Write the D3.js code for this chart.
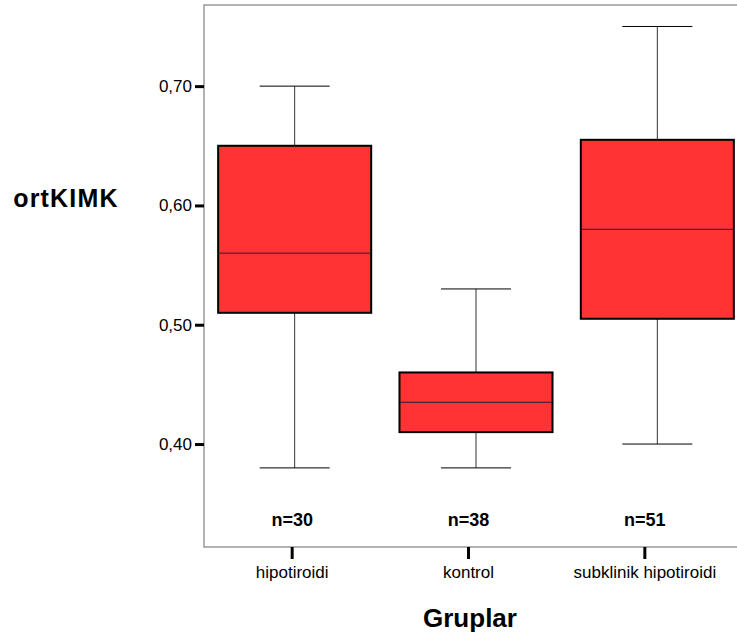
<!DOCTYPE html>
<html>
<head>
<meta charset="utf-8">
<script src="https://cdn.jsdelivr.net/npm/d3@7"></script>
<style>
  body { margin: 0; background: #fff; }
  svg { display: block; font-family: Arial, "Liberation Sans", sans-serif; }
</style>
</head>
<body>
<div id="chart"></div>
<script>
// data
var groups = ['hipotiroidi', 'kontrol', 'subklinik hipotiroidi'];
var counts = ['n=30', 'n=38', 'n=51'];
var whiskerLow  = [0.38, 0.38, 0.40];
var q1          = [0.51, 0.41, 0.505];
var median      = [0.56, 0.435, 0.58];
var q3          = [0.65, 0.46, 0.655];
var whiskerHigh = [0.70, 0.53, 0.75];
var yTicks = [0.40, 0.50, 0.60, 0.70];

var width = 737, height = 637;
var frame = {left: 204, top: 5, right: 748, bottom: 547};
var fontFam = 'Arial, "Liberation Sans", sans-serif';

var rows = groups.map(function(g, i) {
  return {g: g, n: counts[i], lo: whiskerLow[i], q1: q1[i], med: median[i], q3: q3[i], hi: whiskerHigh[i]};
});

var svg = d3.select('#chart').append('svg')
    .attr('width', width)
    .attr('height', height);

var y = d3.scaleLinear()
    .domain([0.3137, 0.768])
    .range([frame.bottom, frame.top]);

// boxes span the whole frame
var xBox = d3.scaleBand()
    .domain(groups)
    .range([frame.left, frame.right])
    .paddingInner(0.156)
    .paddingOuter(0.078);

// tick positions (slightly narrower, like the original)
var xTick = d3.scaleBand()
    .domain(groups)
    .range([frame.left, 733]);

// frame
svg.append('path')
    .attr('d', `M${frame.right},${frame.top}H${frame.left}V${frame.bottom}H${frame.right}`)
    .attr('fill', 'none')
    .attr('stroke', '#999')
    .attr('stroke-width', 1.5);

// y axis
var yAxis = svg.append('g')
    .attr('transform', `translate(${frame.left},0)`)
    .call(d3.axisLeft(y).tickValues(yTicks).tickSize(9).tickPadding(3)
      .tickFormat(d => d3.format('.2f')(d).replace('.', ',')));
yAxis.select('.domain').remove();
yAxis.selectAll('.tick line').attr('stroke', '#000').attr('stroke-width', 3);
yAxis.selectAll('.tick text').attr('font-size', 17).attr('fill', '#000')
    .attr('font-family', fontFam);

// x axis
var xAxis = svg.append('g')
    .attr('transform', `translate(0,${frame.bottom})`)
    .call(d3.axisBottom(xTick).tickSize(12).tickPadding(7));
xAxis.select('.domain').remove();
xAxis.selectAll('.tick line').attr('stroke', '#000').attr('stroke-width', 3);
xAxis.selectAll('.tick text').attr('font-size', 17).attr('fill', '#000')
    .attr('font-family', fontFam);

// boxes
var bw = xBox.bandwidth();
var capW = 70;
var box = svg.append('g').selectAll('g')
    .data(rows)
    .join('g')
    .attr('transform', d => `translate(${xBox(d.g) + bw / 2},0)`);

box.append('line')
    .attr('y1', d => y(d.hi)).attr('y2', d => y(d.q3))
    .attr('stroke', '#333').attr('stroke-width', 1);
box.append('line')
    .attr('y1', d => y(d.q1)).attr('y2', d => y(d.lo))
    .attr('stroke', '#333').attr('stroke-width', 1);
box.append('line')
    .attr('x1', -capW / 2).attr('x2', capW / 2)
    .attr('y1', d => y(d.hi)).attr('y2', d => y(d.hi))
    .attr('stroke', '#000').attr('stroke-width', 1);
box.append('line')
    .attr('x1', -capW / 2).attr('x2', capW / 2)
    .attr('y1', d => y(d.lo)).attr('y2', d => y(d.lo))
    .attr('stroke', '#000').attr('stroke-width', 1);
box.append('rect')
    .attr('x', -bw / 2)
    .attr('width', bw)
    .attr('y', d => y(d.q3))
    .attr('height', d => y(d.q1) - y(d.q3))
    .attr('fill', '#ff3333')
    .attr('stroke', '#000')
    .attr('stroke-width', 2);
box.append('line')
    .attr('x1', -bw / 2).attr('x2', bw / 2)
    .attr('y1', d => y(d.med)).attr('y2', d => y(d.med))
    .attr('stroke', '#222').attr('stroke-width', 1);

// n labels
svg.append('g').selectAll('text')
    .data(rows)
    .join('text')
    .attr('x', d => xTick(d.g) + xTick.bandwidth() / 2)
    .attr('y', 526)
    .attr('text-anchor', 'middle')
    .attr('font-size', 18)
    .attr('font-weight', 'bold')
    .text(d => d.n);

// axis titles
svg.append('text')
    .attr('x', 470).attr('y', 627)
    .attr('text-anchor', 'middle')
    .attr('font-size', 26).attr('font-weight', 'bold')
    .text('Gruplar');

svg.append('text')
    .attr('x', 66).attr('y', 207)
    .attr('text-anchor', 'middle')
    .attr('font-size', 25).attr('font-weight', 'bold')
    .attr('letter-spacing', 1.2)
    .text('ortKIMK');
</script>
</body>
</html>
